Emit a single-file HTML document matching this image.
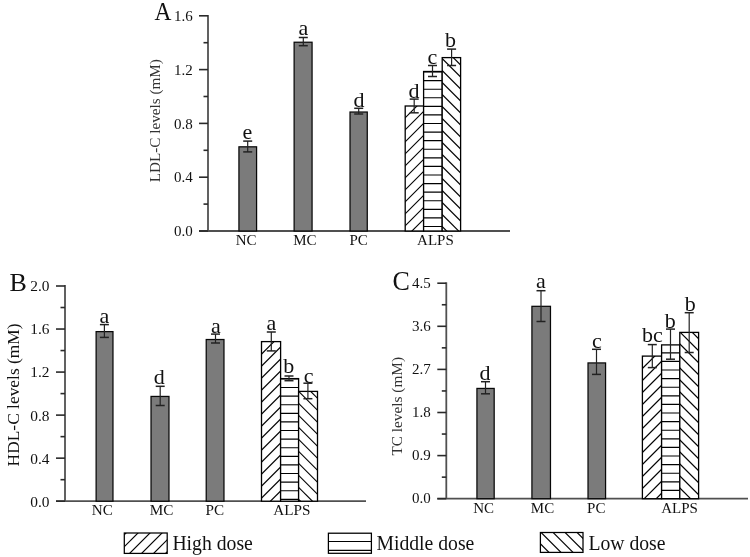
<!DOCTYPE html>
<html><head><meta charset="utf-8"><style>
html,body{margin:0;padding:0;background:#fff;}
svg{display:block;filter:grayscale(1) blur(0.35px);}
text{font-family:"Liberation Serif", serif;fill:#111;}
</style></head><body>
<svg width="750" height="557" viewBox="0 0 750 557">
<rect width="750" height="557" fill="#fff"/>
<line x1="208.00" y1="14.90" x2="208.00" y2="231.00" stroke="#505050" stroke-width="1.8"/>
<line x1="199.00" y1="231.00" x2="510.00" y2="231.00" stroke="#505050" stroke-width="1.8"/>
<line x1="199.00" y1="231.00" x2="208.00" y2="231.00" stroke="#2a2a2a" stroke-width="1.6"/>
<line x1="199.00" y1="177.20" x2="208.00" y2="177.20" stroke="#2a2a2a" stroke-width="1.6"/>
<line x1="199.00" y1="123.40" x2="208.00" y2="123.40" stroke="#2a2a2a" stroke-width="1.6"/>
<line x1="199.00" y1="69.60" x2="208.00" y2="69.60" stroke="#2a2a2a" stroke-width="1.6"/>
<line x1="199.00" y1="15.80" x2="208.00" y2="15.80" stroke="#2a2a2a" stroke-width="1.6"/>
<line x1="203.50" y1="204.10" x2="208.00" y2="204.10" stroke="#2a2a2a" stroke-width="1.6"/>
<line x1="203.50" y1="150.30" x2="208.00" y2="150.30" stroke="#2a2a2a" stroke-width="1.6"/>
<line x1="203.50" y1="96.50" x2="208.00" y2="96.50" stroke="#2a2a2a" stroke-width="1.6"/>
<line x1="203.50" y1="42.70" x2="208.00" y2="42.70" stroke="#2a2a2a" stroke-width="1.6"/>
<text x="192.80" y="236.20" font-size="15" text-anchor="end">0.0</text>
<text x="192.80" y="182.40" font-size="15" text-anchor="end">0.4</text>
<text x="192.80" y="128.60" font-size="15" text-anchor="end">0.8</text>
<text x="192.80" y="74.80" font-size="15" text-anchor="end">1.2</text>
<text x="192.80" y="21.00" font-size="15" text-anchor="end">1.6</text>
<text transform="translate(163,20.4) scale(0.9,1)" font-size="26" text-anchor="middle">A</text>
<text transform="translate(160.3,120.7) rotate(-90) scale(1,0.95)" font-size="15.2" style="fill:#333" text-anchor="middle">LDL-C levels (mM)</text>
<rect x="238.93" y="146.82" width="17.65" height="84.18" fill="#7b7b7b" stroke="#080808" stroke-width="1.25"/>
<rect x="294.12" y="42.23" width="17.95" height="188.78" fill="#7b7b7b" stroke="#080808" stroke-width="1.25"/>
<rect x="350.02" y="112.03" width="17.25" height="118.97" fill="#7b7b7b" stroke="#080808" stroke-width="1.25"/>
<rect x="405.2" y="106" width="18.400000000000034" height="125" fill="#fff"/>
<clipPath id="c1"><rect x="405.2" y="106" width="18.400000000000034" height="125"/></clipPath>
<g clip-path="url(#c1)" stroke="#000" stroke-width="1.15">
<line x1="277.95" y1="233.00" x2="406.95" y2="104.00"/>
<line x1="289.95" y1="233.00" x2="418.95" y2="104.00"/>
<line x1="301.95" y1="233.00" x2="430.95" y2="104.00"/>
<line x1="313.95" y1="233.00" x2="442.95" y2="104.00"/>
<line x1="325.95" y1="233.00" x2="454.95" y2="104.00"/>
<line x1="337.95" y1="233.00" x2="466.95" y2="104.00"/>
<line x1="349.95" y1="233.00" x2="478.95" y2="104.00"/>
<line x1="361.95" y1="233.00" x2="490.95" y2="104.00"/>
<line x1="373.95" y1="233.00" x2="502.95" y2="104.00"/>
<line x1="385.95" y1="233.00" x2="514.95" y2="104.00"/>
<line x1="397.95" y1="233.00" x2="526.95" y2="104.00"/>
<line x1="409.95" y1="233.00" x2="538.95" y2="104.00"/>
<line x1="421.95" y1="233.00" x2="550.95" y2="104.00"/>
</g>
<rect x="405.2" y="106" width="18.400000000000034" height="125" fill="none" stroke="#000" stroke-width="1.3"/>
<rect x="423.6" y="71.5" width="18.599999999999966" height="159.5" fill="#fff"/>
<clipPath id="c2"><rect x="423.6" y="71.5" width="18.599999999999966" height="159.5"/></clipPath>
<g clip-path="url(#c2)" stroke="#000" stroke-width="1.15">
<line x1="423.6" y1="63.46" x2="442.2" y2="63.46"/>
<line x1="423.6" y1="72.04" x2="442.2" y2="72.04"/>
<line x1="423.6" y1="80.62" x2="442.2" y2="80.62"/>
<line x1="423.6" y1="89.20" x2="442.2" y2="89.20"/>
<line x1="423.6" y1="97.78" x2="442.2" y2="97.78"/>
<line x1="423.6" y1="106.36" x2="442.2" y2="106.36"/>
<line x1="423.6" y1="114.94" x2="442.2" y2="114.94"/>
<line x1="423.6" y1="123.52" x2="442.2" y2="123.52"/>
<line x1="423.6" y1="132.10" x2="442.2" y2="132.10"/>
<line x1="423.6" y1="140.68" x2="442.2" y2="140.68"/>
<line x1="423.6" y1="149.26" x2="442.2" y2="149.26"/>
<line x1="423.6" y1="157.84" x2="442.2" y2="157.84"/>
<line x1="423.6" y1="166.42" x2="442.2" y2="166.42"/>
<line x1="423.6" y1="175.00" x2="442.2" y2="175.00"/>
<line x1="423.6" y1="183.58" x2="442.2" y2="183.58"/>
<line x1="423.6" y1="192.16" x2="442.2" y2="192.16"/>
<line x1="423.6" y1="200.74" x2="442.2" y2="200.74"/>
<line x1="423.6" y1="209.32" x2="442.2" y2="209.32"/>
<line x1="423.6" y1="217.90" x2="442.2" y2="217.90"/>
<line x1="423.6" y1="226.48" x2="442.2" y2="226.48"/>
<line x1="423.6" y1="235.06" x2="442.2" y2="235.06"/>
</g>
<rect x="423.6" y="71.5" width="18.599999999999966" height="159.5" fill="none" stroke="#000" stroke-width="1.3"/>
<rect x="442.2" y="57.6" width="18.400000000000034" height="173.4" fill="#fff"/>
<clipPath id="c3"><rect x="442.2" y="57.6" width="18.400000000000034" height="173.4"/></clipPath>
<g clip-path="url(#c3)" stroke="#000" stroke-width="1.15">
<line x1="259.25" y1="55.60" x2="436.65" y2="233.00"/>
<line x1="271.25" y1="55.60" x2="448.65" y2="233.00"/>
<line x1="283.25" y1="55.60" x2="460.65" y2="233.00"/>
<line x1="295.25" y1="55.60" x2="472.65" y2="233.00"/>
<line x1="307.25" y1="55.60" x2="484.65" y2="233.00"/>
<line x1="319.25" y1="55.60" x2="496.65" y2="233.00"/>
<line x1="331.25" y1="55.60" x2="508.65" y2="233.00"/>
<line x1="343.25" y1="55.60" x2="520.65" y2="233.00"/>
<line x1="355.25" y1="55.60" x2="532.65" y2="233.00"/>
<line x1="367.25" y1="55.60" x2="544.65" y2="233.00"/>
<line x1="379.25" y1="55.60" x2="556.65" y2="233.00"/>
<line x1="391.25" y1="55.60" x2="568.65" y2="233.00"/>
<line x1="403.25" y1="55.60" x2="580.65" y2="233.00"/>
<line x1="415.25" y1="55.60" x2="592.65" y2="233.00"/>
<line x1="427.25" y1="55.60" x2="604.65" y2="233.00"/>
<line x1="439.25" y1="55.60" x2="616.65" y2="233.00"/>
<line x1="451.25" y1="55.60" x2="628.65" y2="233.00"/>
<line x1="463.25" y1="55.60" x2="640.65" y2="233.00"/>
</g>
<rect x="442.2" y="57.6" width="18.400000000000034" height="173.4" fill="none" stroke="#000" stroke-width="1.3"/>
<line x1="247.70" y1="141.10" x2="247.70" y2="151.90" stroke="#222" stroke-width="1.2"/>
<line x1="243.20" y1="141.10" x2="252.20" y2="141.10" stroke="#222" stroke-width="1.5"/>
<line x1="243.20" y1="151.90" x2="252.20" y2="151.90" stroke="#222" stroke-width="1.5"/>
<line x1="303.30" y1="37.50" x2="303.30" y2="45.70" stroke="#222" stroke-width="1.2"/>
<line x1="298.80" y1="37.50" x2="307.80" y2="37.50" stroke="#222" stroke-width="1.5"/>
<line x1="298.80" y1="45.70" x2="307.80" y2="45.70" stroke="#222" stroke-width="1.5"/>
<line x1="358.70" y1="108.30" x2="358.70" y2="114.00" stroke="#222" stroke-width="1.2"/>
<line x1="354.20" y1="108.30" x2="363.20" y2="108.30" stroke="#222" stroke-width="1.5"/>
<line x1="354.20" y1="114.00" x2="363.20" y2="114.00" stroke="#222" stroke-width="1.5"/>
<line x1="414.20" y1="99.10" x2="414.20" y2="112.80" stroke="#222" stroke-width="1.2"/>
<line x1="409.70" y1="99.10" x2="418.70" y2="99.10" stroke="#222" stroke-width="1.5"/>
<line x1="409.70" y1="112.80" x2="418.70" y2="112.80" stroke="#222" stroke-width="1.5"/>
<line x1="432.50" y1="65.50" x2="432.50" y2="76.50" stroke="#222" stroke-width="1.2"/>
<line x1="428.00" y1="65.50" x2="437.00" y2="65.50" stroke="#222" stroke-width="1.5"/>
<line x1="428.00" y1="76.50" x2="437.00" y2="76.50" stroke="#222" stroke-width="1.5"/>
<line x1="451.60" y1="49.10" x2="451.60" y2="65.50" stroke="#222" stroke-width="1.2"/>
<line x1="447.10" y1="49.10" x2="456.10" y2="49.10" stroke="#222" stroke-width="1.5"/>
<line x1="447.10" y1="65.50" x2="456.10" y2="65.50" stroke="#222" stroke-width="1.5"/>
<text x="247.50" y="139.00" font-size="22" text-anchor="middle">e</text>
<text x="303.50" y="35.20" font-size="22" text-anchor="middle">a</text>
<text x="359.00" y="106.90" font-size="22" text-anchor="middle">d</text>
<text x="414.00" y="97.50" font-size="22" text-anchor="middle">d</text>
<text x="432.30" y="63.70" font-size="22" text-anchor="middle">c</text>
<text x="450.50" y="47.10" font-size="22" text-anchor="middle">b</text>
<text x="246.20" y="245.00" font-size="15" text-anchor="middle">NC</text>
<text x="304.80" y="245.00" font-size="15" text-anchor="middle">MC</text>
<text x="358.60" y="245.00" font-size="15" text-anchor="middle">PC</text>
<text x="435.40" y="245.00" font-size="15" text-anchor="middle">ALPS</text>
<line x1="65.00" y1="285.10" x2="65.00" y2="501.20" stroke="#505050" stroke-width="1.8"/>
<line x1="56.00" y1="501.20" x2="366.00" y2="501.20" stroke="#505050" stroke-width="1.8"/>
<line x1="56.00" y1="501.20" x2="65.00" y2="501.20" stroke="#2a2a2a" stroke-width="1.6"/>
<line x1="56.00" y1="458.16" x2="65.00" y2="458.16" stroke="#2a2a2a" stroke-width="1.6"/>
<line x1="56.00" y1="415.12" x2="65.00" y2="415.12" stroke="#2a2a2a" stroke-width="1.6"/>
<line x1="56.00" y1="372.08" x2="65.00" y2="372.08" stroke="#2a2a2a" stroke-width="1.6"/>
<line x1="56.00" y1="329.04" x2="65.00" y2="329.04" stroke="#2a2a2a" stroke-width="1.6"/>
<line x1="56.00" y1="286.00" x2="65.00" y2="286.00" stroke="#2a2a2a" stroke-width="1.6"/>
<line x1="60.50" y1="479.68" x2="65.00" y2="479.68" stroke="#2a2a2a" stroke-width="1.6"/>
<line x1="60.50" y1="436.64" x2="65.00" y2="436.64" stroke="#2a2a2a" stroke-width="1.6"/>
<line x1="60.50" y1="393.60" x2="65.00" y2="393.60" stroke="#2a2a2a" stroke-width="1.6"/>
<line x1="60.50" y1="350.56" x2="65.00" y2="350.56" stroke="#2a2a2a" stroke-width="1.6"/>
<line x1="60.50" y1="307.52" x2="65.00" y2="307.52" stroke="#2a2a2a" stroke-width="1.6"/>
<text x="49.50" y="506.60" font-size="15.4" text-anchor="end">0.0</text>
<text x="49.50" y="463.56" font-size="15.4" text-anchor="end">0.4</text>
<text x="49.50" y="420.52" font-size="15.4" text-anchor="end">0.8</text>
<text x="49.50" y="377.48" font-size="15.4" text-anchor="end">1.2</text>
<text x="49.50" y="334.44" font-size="15.4" text-anchor="end">1.6</text>
<text x="49.50" y="291.40" font-size="15.4" text-anchor="end">2.0</text>
<text x="9.50" y="291.00" font-size="26" text-anchor="start">B</text>
<text transform="translate(18.7,394.9) rotate(-90)" font-size="17.4" text-anchor="middle">HDL-C levels (mM)</text>
<rect x="96.12" y="331.62" width="16.85" height="169.57" fill="#7b7b7b" stroke="#080808" stroke-width="1.25"/>
<rect x="151.03" y="396.43" width="17.95" height="104.77" fill="#7b7b7b" stroke="#080808" stroke-width="1.25"/>
<rect x="206.22" y="339.52" width="17.75" height="161.68" fill="#7b7b7b" stroke="#080808" stroke-width="1.25"/>
<rect x="261.5" y="341.6" width="19.100000000000023" height="159.59999999999997" fill="#fff"/>
<clipPath id="c4"><rect x="261.5" y="341.6" width="19.100000000000023" height="159.59999999999997"/></clipPath>
<g clip-path="url(#c4)" stroke="#000" stroke-width="1.15">
<line x1="88.40" y1="503.20" x2="252.00" y2="339.60"/>
<line x1="100.40" y1="503.20" x2="264.00" y2="339.60"/>
<line x1="112.40" y1="503.20" x2="276.00" y2="339.60"/>
<line x1="124.40" y1="503.20" x2="288.00" y2="339.60"/>
<line x1="136.40" y1="503.20" x2="300.00" y2="339.60"/>
<line x1="148.40" y1="503.20" x2="312.00" y2="339.60"/>
<line x1="160.40" y1="503.20" x2="324.00" y2="339.60"/>
<line x1="172.40" y1="503.20" x2="336.00" y2="339.60"/>
<line x1="184.40" y1="503.20" x2="348.00" y2="339.60"/>
<line x1="196.40" y1="503.20" x2="360.00" y2="339.60"/>
<line x1="208.40" y1="503.20" x2="372.00" y2="339.60"/>
<line x1="220.40" y1="503.20" x2="384.00" y2="339.60"/>
<line x1="232.40" y1="503.20" x2="396.00" y2="339.60"/>
<line x1="244.40" y1="503.20" x2="408.00" y2="339.60"/>
<line x1="256.40" y1="503.20" x2="420.00" y2="339.60"/>
<line x1="268.40" y1="503.20" x2="432.00" y2="339.60"/>
<line x1="280.40" y1="503.20" x2="444.00" y2="339.60"/>
</g>
<rect x="261.5" y="341.6" width="19.100000000000023" height="159.59999999999997" fill="none" stroke="#000" stroke-width="1.3"/>
<rect x="280.6" y="378.6" width="18.0" height="122.59999999999997" fill="#fff"/>
<clipPath id="c5"><rect x="280.6" y="378.6" width="18.0" height="122.59999999999997"/></clipPath>
<g clip-path="url(#c5)" stroke="#000" stroke-width="1.15">
<line x1="280.6" y1="370.30" x2="298.6" y2="370.30"/>
<line x1="280.6" y1="378.90" x2="298.6" y2="378.90"/>
<line x1="280.6" y1="387.50" x2="298.6" y2="387.50"/>
<line x1="280.6" y1="396.10" x2="298.6" y2="396.10"/>
<line x1="280.6" y1="404.70" x2="298.6" y2="404.70"/>
<line x1="280.6" y1="413.30" x2="298.6" y2="413.30"/>
<line x1="280.6" y1="421.90" x2="298.6" y2="421.90"/>
<line x1="280.6" y1="430.50" x2="298.6" y2="430.50"/>
<line x1="280.6" y1="439.10" x2="298.6" y2="439.10"/>
<line x1="280.6" y1="447.70" x2="298.6" y2="447.70"/>
<line x1="280.6" y1="456.30" x2="298.6" y2="456.30"/>
<line x1="280.6" y1="464.90" x2="298.6" y2="464.90"/>
<line x1="280.6" y1="473.50" x2="298.6" y2="473.50"/>
<line x1="280.6" y1="482.10" x2="298.6" y2="482.10"/>
<line x1="280.6" y1="490.70" x2="298.6" y2="490.70"/>
<line x1="280.6" y1="499.30" x2="298.6" y2="499.30"/>
<line x1="280.6" y1="507.90" x2="298.6" y2="507.90"/>
</g>
<rect x="280.6" y="378.6" width="18.0" height="122.59999999999997" fill="none" stroke="#000" stroke-width="1.3"/>
<rect x="298.6" y="391.4" width="18.899999999999977" height="109.80000000000001" fill="#fff"/>
<clipPath id="c6"><rect x="298.6" y="391.4" width="18.899999999999977" height="109.80000000000001"/></clipPath>
<g clip-path="url(#c6)" stroke="#000" stroke-width="1.15">
<line x1="176.65" y1="389.40" x2="290.45" y2="503.20"/>
<line x1="188.65" y1="389.40" x2="302.45" y2="503.20"/>
<line x1="200.65" y1="389.40" x2="314.45" y2="503.20"/>
<line x1="212.65" y1="389.40" x2="326.45" y2="503.20"/>
<line x1="224.65" y1="389.40" x2="338.45" y2="503.20"/>
<line x1="236.65" y1="389.40" x2="350.45" y2="503.20"/>
<line x1="248.65" y1="389.40" x2="362.45" y2="503.20"/>
<line x1="260.65" y1="389.40" x2="374.45" y2="503.20"/>
<line x1="272.65" y1="389.40" x2="386.45" y2="503.20"/>
<line x1="284.65" y1="389.40" x2="398.45" y2="503.20"/>
<line x1="296.65" y1="389.40" x2="410.45" y2="503.20"/>
<line x1="308.65" y1="389.40" x2="422.45" y2="503.20"/>
<line x1="320.65" y1="389.40" x2="434.45" y2="503.20"/>
</g>
<rect x="298.6" y="391.4" width="18.899999999999977" height="109.80000000000001" fill="none" stroke="#000" stroke-width="1.3"/>
<line x1="104.40" y1="324.60" x2="104.40" y2="337.40" stroke="#222" stroke-width="1.2"/>
<line x1="99.90" y1="324.60" x2="108.90" y2="324.60" stroke="#222" stroke-width="1.5"/>
<line x1="99.90" y1="337.40" x2="108.90" y2="337.40" stroke="#222" stroke-width="1.5"/>
<line x1="160.20" y1="386.30" x2="160.20" y2="405.50" stroke="#222" stroke-width="1.2"/>
<line x1="155.70" y1="386.30" x2="164.70" y2="386.30" stroke="#222" stroke-width="1.5"/>
<line x1="155.70" y1="405.50" x2="164.70" y2="405.50" stroke="#222" stroke-width="1.5"/>
<line x1="215.50" y1="334.10" x2="215.50" y2="343.00" stroke="#222" stroke-width="1.2"/>
<line x1="211.00" y1="334.10" x2="220.00" y2="334.10" stroke="#222" stroke-width="1.5"/>
<line x1="211.00" y1="343.00" x2="220.00" y2="343.00" stroke="#222" stroke-width="1.5"/>
<line x1="271.30" y1="332.00" x2="271.30" y2="350.90" stroke="#222" stroke-width="1.2"/>
<line x1="266.80" y1="332.00" x2="275.80" y2="332.00" stroke="#222" stroke-width="1.5"/>
<line x1="266.80" y1="350.90" x2="275.80" y2="350.90" stroke="#222" stroke-width="1.5"/>
<line x1="289.00" y1="376.00" x2="289.00" y2="380.70" stroke="#222" stroke-width="1.2"/>
<line x1="284.50" y1="376.00" x2="293.50" y2="376.00" stroke="#222" stroke-width="1.5"/>
<line x1="284.50" y1="380.70" x2="293.50" y2="380.70" stroke="#222" stroke-width="1.5"/>
<line x1="307.90" y1="383.20" x2="307.90" y2="398.70" stroke="#222" stroke-width="1.2"/>
<line x1="303.40" y1="383.20" x2="312.40" y2="383.20" stroke="#222" stroke-width="1.5"/>
<line x1="303.40" y1="398.70" x2="312.40" y2="398.70" stroke="#222" stroke-width="1.5"/>
<text x="104.50" y="323.00" font-size="22" text-anchor="middle">a</text>
<text x="159.30" y="383.50" font-size="22" text-anchor="middle">d</text>
<text x="216.00" y="332.90" font-size="22" text-anchor="middle">a</text>
<text x="271.40" y="330.10" font-size="22" text-anchor="middle">a</text>
<text x="288.80" y="372.50" font-size="22" text-anchor="middle">b</text>
<text x="308.70" y="382.50" font-size="22" text-anchor="middle">c</text>
<text x="102.30" y="515.00" font-size="15.2" text-anchor="middle">NC</text>
<text x="161.50" y="515.00" font-size="15.2" text-anchor="middle">MC</text>
<text x="214.80" y="515.00" font-size="15.2" text-anchor="middle">PC</text>
<text x="291.80" y="515.00" font-size="15.2" text-anchor="middle">ALPS</text>
<line x1="446.30" y1="282.30" x2="446.30" y2="498.70" stroke="#505050" stroke-width="1.8"/>
<line x1="437.30" y1="498.70" x2="748.00" y2="498.70" stroke="#505050" stroke-width="1.8"/>
<line x1="437.30" y1="498.70" x2="446.30" y2="498.70" stroke="#2a2a2a" stroke-width="1.6"/>
<line x1="437.30" y1="455.60" x2="446.30" y2="455.60" stroke="#2a2a2a" stroke-width="1.6"/>
<line x1="437.30" y1="412.50" x2="446.30" y2="412.50" stroke="#2a2a2a" stroke-width="1.6"/>
<line x1="437.30" y1="369.40" x2="446.30" y2="369.40" stroke="#2a2a2a" stroke-width="1.6"/>
<line x1="437.30" y1="326.30" x2="446.30" y2="326.30" stroke="#2a2a2a" stroke-width="1.6"/>
<line x1="437.30" y1="283.20" x2="446.30" y2="283.20" stroke="#2a2a2a" stroke-width="1.6"/>
<line x1="441.80" y1="477.15" x2="446.30" y2="477.15" stroke="#2a2a2a" stroke-width="1.6"/>
<line x1="441.80" y1="434.05" x2="446.30" y2="434.05" stroke="#2a2a2a" stroke-width="1.6"/>
<line x1="441.80" y1="390.95" x2="446.30" y2="390.95" stroke="#2a2a2a" stroke-width="1.6"/>
<line x1="441.80" y1="347.85" x2="446.30" y2="347.85" stroke="#2a2a2a" stroke-width="1.6"/>
<line x1="441.80" y1="304.75" x2="446.30" y2="304.75" stroke="#2a2a2a" stroke-width="1.6"/>
<text x="430.80" y="503.20" font-size="15" text-anchor="end">0.0</text>
<text x="430.80" y="460.10" font-size="15" text-anchor="end">0.9</text>
<text x="430.80" y="417.00" font-size="15" text-anchor="end">1.8</text>
<text x="430.80" y="373.90" font-size="15" text-anchor="end">2.7</text>
<text x="430.80" y="330.80" font-size="15" text-anchor="end">3.6</text>
<text x="430.80" y="287.70" font-size="15" text-anchor="end">4.5</text>
<text transform="translate(392.5,290.2) scale(1,1.065)" font-size="26">C</text>
<text transform="translate(402,406.3) rotate(-90)" font-size="15.3" style="fill:#333" text-anchor="middle">TC levels (mM)</text>
<rect x="476.93" y="388.43" width="17.25" height="110.27" fill="#7b7b7b" stroke="#080808" stroke-width="1.25"/>
<rect x="531.92" y="306.32" width="18.55" height="192.38" fill="#7b7b7b" stroke="#080808" stroke-width="1.25"/>
<rect x="588.02" y="362.93" width="17.55" height="135.77" fill="#7b7b7b" stroke="#080808" stroke-width="1.25"/>
<rect x="642.4" y="356.1" width="19.200000000000045" height="142.59999999999997" fill="#fff"/>
<clipPath id="c7"><rect x="642.4" y="356.1" width="19.200000000000045" height="142.59999999999997"/></clipPath>
<g clip-path="url(#c7)" stroke="#000" stroke-width="1.15">
<line x1="486.20" y1="500.70" x2="632.80" y2="354.10"/>
<line x1="498.20" y1="500.70" x2="644.80" y2="354.10"/>
<line x1="510.20" y1="500.70" x2="656.80" y2="354.10"/>
<line x1="522.20" y1="500.70" x2="668.80" y2="354.10"/>
<line x1="534.20" y1="500.70" x2="680.80" y2="354.10"/>
<line x1="546.20" y1="500.70" x2="692.80" y2="354.10"/>
<line x1="558.20" y1="500.70" x2="704.80" y2="354.10"/>
<line x1="570.20" y1="500.70" x2="716.80" y2="354.10"/>
<line x1="582.20" y1="500.70" x2="728.80" y2="354.10"/>
<line x1="594.20" y1="500.70" x2="740.80" y2="354.10"/>
<line x1="606.20" y1="500.70" x2="752.80" y2="354.10"/>
<line x1="618.20" y1="500.70" x2="764.80" y2="354.10"/>
<line x1="630.20" y1="500.70" x2="776.80" y2="354.10"/>
<line x1="642.20" y1="500.70" x2="788.80" y2="354.10"/>
<line x1="654.20" y1="500.70" x2="800.80" y2="354.10"/>
<line x1="666.20" y1="500.70" x2="812.80" y2="354.10"/>
</g>
<rect x="642.4" y="356.1" width="19.200000000000045" height="142.59999999999997" fill="none" stroke="#000" stroke-width="1.3"/>
<rect x="661.6" y="344.9" width="18.199999999999932" height="153.8" fill="#fff"/>
<clipPath id="c8"><rect x="661.6" y="344.9" width="18.199999999999932" height="153.8"/></clipPath>
<g clip-path="url(#c8)" stroke="#000" stroke-width="1.15">
<line x1="661.6" y1="344.20" x2="679.8" y2="344.20"/>
<line x1="661.6" y1="352.80" x2="679.8" y2="352.80"/>
<line x1="661.6" y1="361.40" x2="679.8" y2="361.40"/>
<line x1="661.6" y1="370.00" x2="679.8" y2="370.00"/>
<line x1="661.6" y1="378.60" x2="679.8" y2="378.60"/>
<line x1="661.6" y1="387.20" x2="679.8" y2="387.20"/>
<line x1="661.6" y1="395.80" x2="679.8" y2="395.80"/>
<line x1="661.6" y1="404.40" x2="679.8" y2="404.40"/>
<line x1="661.6" y1="413.00" x2="679.8" y2="413.00"/>
<line x1="661.6" y1="421.60" x2="679.8" y2="421.60"/>
<line x1="661.6" y1="430.20" x2="679.8" y2="430.20"/>
<line x1="661.6" y1="438.80" x2="679.8" y2="438.80"/>
<line x1="661.6" y1="447.40" x2="679.8" y2="447.40"/>
<line x1="661.6" y1="456.00" x2="679.8" y2="456.00"/>
<line x1="661.6" y1="464.60" x2="679.8" y2="464.60"/>
<line x1="661.6" y1="473.20" x2="679.8" y2="473.20"/>
<line x1="661.6" y1="481.80" x2="679.8" y2="481.80"/>
<line x1="661.6" y1="490.40" x2="679.8" y2="490.40"/>
<line x1="661.6" y1="499.00" x2="679.8" y2="499.00"/>
</g>
<rect x="661.6" y="344.9" width="18.199999999999932" height="153.8" fill="none" stroke="#000" stroke-width="1.3"/>
<rect x="679.8" y="332.4" width="18.800000000000068" height="166.3" fill="#fff"/>
<clipPath id="c9"><rect x="679.8" y="332.4" width="18.800000000000068" height="166.3"/></clipPath>
<g clip-path="url(#c9)" stroke="#000" stroke-width="1.15">
<line x1="510.30" y1="330.40" x2="680.60" y2="500.70"/>
<line x1="522.30" y1="330.40" x2="692.60" y2="500.70"/>
<line x1="534.30" y1="330.40" x2="704.60" y2="500.70"/>
<line x1="546.30" y1="330.40" x2="716.60" y2="500.70"/>
<line x1="558.30" y1="330.40" x2="728.60" y2="500.70"/>
<line x1="570.30" y1="330.40" x2="740.60" y2="500.70"/>
<line x1="582.30" y1="330.40" x2="752.60" y2="500.70"/>
<line x1="594.30" y1="330.40" x2="764.60" y2="500.70"/>
<line x1="606.30" y1="330.40" x2="776.60" y2="500.70"/>
<line x1="618.30" y1="330.40" x2="788.60" y2="500.70"/>
<line x1="630.30" y1="330.40" x2="800.60" y2="500.70"/>
<line x1="642.30" y1="330.40" x2="812.60" y2="500.70"/>
<line x1="654.30" y1="330.40" x2="824.60" y2="500.70"/>
<line x1="666.30" y1="330.40" x2="836.60" y2="500.70"/>
<line x1="678.30" y1="330.40" x2="848.60" y2="500.70"/>
<line x1="690.30" y1="330.40" x2="860.60" y2="500.70"/>
<line x1="702.30" y1="330.40" x2="872.60" y2="500.70"/>
</g>
<rect x="679.8" y="332.4" width="18.800000000000068" height="166.3" fill="none" stroke="#000" stroke-width="1.3"/>
<line x1="485.50" y1="381.70" x2="485.50" y2="393.80" stroke="#222" stroke-width="1.2"/>
<line x1="481.00" y1="381.70" x2="490.00" y2="381.70" stroke="#222" stroke-width="1.5"/>
<line x1="481.00" y1="393.80" x2="490.00" y2="393.80" stroke="#222" stroke-width="1.5"/>
<line x1="541.00" y1="290.70" x2="541.00" y2="321.50" stroke="#222" stroke-width="1.2"/>
<line x1="536.50" y1="290.70" x2="545.50" y2="290.70" stroke="#222" stroke-width="1.5"/>
<line x1="536.50" y1="321.50" x2="545.50" y2="321.50" stroke="#222" stroke-width="1.5"/>
<line x1="596.50" y1="349.30" x2="596.50" y2="374.40" stroke="#222" stroke-width="1.2"/>
<line x1="592.00" y1="349.30" x2="601.00" y2="349.30" stroke="#222" stroke-width="1.5"/>
<line x1="592.00" y1="374.40" x2="601.00" y2="374.40" stroke="#222" stroke-width="1.5"/>
<line x1="652.30" y1="344.60" x2="652.30" y2="367.60" stroke="#222" stroke-width="1.2"/>
<line x1="647.80" y1="344.60" x2="656.80" y2="344.60" stroke="#222" stroke-width="1.5"/>
<line x1="647.80" y1="367.60" x2="656.80" y2="367.60" stroke="#222" stroke-width="1.5"/>
<line x1="670.50" y1="329.10" x2="670.50" y2="359.20" stroke="#222" stroke-width="1.2"/>
<line x1="666.00" y1="329.10" x2="675.00" y2="329.10" stroke="#222" stroke-width="1.5"/>
<line x1="666.00" y1="359.20" x2="675.00" y2="359.20" stroke="#222" stroke-width="1.5"/>
<line x1="689.20" y1="312.70" x2="689.20" y2="352.50" stroke="#222" stroke-width="1.2"/>
<line x1="684.70" y1="312.70" x2="693.70" y2="312.70" stroke="#222" stroke-width="1.5"/>
<line x1="684.70" y1="352.50" x2="693.70" y2="352.50" stroke="#222" stroke-width="1.5"/>
<text x="485.00" y="379.70" font-size="22" text-anchor="middle">d</text>
<text x="541.00" y="288.30" font-size="22" text-anchor="middle">a</text>
<text x="596.80" y="348.00" font-size="22" text-anchor="middle">c</text>
<text x="652.40" y="342.40" font-size="22" text-anchor="middle">bc</text>
<text x="670.20" y="327.80" font-size="22" text-anchor="middle">b</text>
<text x="690.30" y="310.50" font-size="22" text-anchor="middle">b</text>
<text x="483.70" y="512.50" font-size="15" text-anchor="middle">NC</text>
<text x="542.50" y="512.50" font-size="15" text-anchor="middle">MC</text>
<text x="596.30" y="512.50" font-size="15" text-anchor="middle">PC</text>
<text x="679.60" y="512.50" font-size="15" text-anchor="middle">ALPS</text>
<rect x="124.3" y="533" width="42.9" height="20.4" fill="#fff"/>
<clipPath id="c10"><rect x="124.3" y="533" width="42.89999999999999" height="20.399999999999977"/></clipPath>
<g clip-path="url(#c10)" stroke="#000" stroke-width="1.15">
<line x1="91.60" y1="555.40" x2="116.00" y2="531.00"/>
<line x1="103.60" y1="555.40" x2="128.00" y2="531.00"/>
<line x1="115.60" y1="555.40" x2="140.00" y2="531.00"/>
<line x1="127.60" y1="555.40" x2="152.00" y2="531.00"/>
<line x1="139.60" y1="555.40" x2="164.00" y2="531.00"/>
<line x1="151.60" y1="555.40" x2="176.00" y2="531.00"/>
<line x1="163.60" y1="555.40" x2="188.00" y2="531.00"/>
<line x1="175.60" y1="555.40" x2="200.00" y2="531.00"/>
</g>
<rect x="124.3" y="533" width="42.9" height="20.4" fill="none" stroke="#000" stroke-width="1.25"/>
<text transform="translate(172.4,549.8) scale(1,1.065)" font-size="19.7">High dose</text>
<rect x="328.4" y="533.2" width="43" height="20.1" fill="#fff"/>
<clipPath id="c11"><rect x="328.4" y="533.2" width="43.0" height="20.09999999999991"/></clipPath>
<g clip-path="url(#c11)" stroke="#000" stroke-width="1.15">
<line x1="328.4" y1="532.70" x2="371.4" y2="532.70"/>
<line x1="328.4" y1="541.50" x2="371.4" y2="541.50"/>
<line x1="328.4" y1="550.30" x2="371.4" y2="550.30"/>
<line x1="328.4" y1="559.10" x2="371.4" y2="559.10"/>
</g>
<rect x="328.4" y="533.2" width="43" height="20.1" fill="none" stroke="#000" stroke-width="1.25"/>
<text transform="translate(376.4,549.8) scale(1,1.065)" font-size="19.7">Middle dose</text>
<rect x="540.4" y="532.5" width="42.6" height="19.9" fill="#fff"/>
<clipPath id="c12"><rect x="540.4" y="532.5" width="42.60000000000002" height="19.899999999999977"/></clipPath>
<g clip-path="url(#c12)" stroke="#000" stroke-width="1.15">
<line x1="515.10" y1="530.50" x2="539.00" y2="554.40"/>
<line x1="527.10" y1="530.50" x2="551.00" y2="554.40"/>
<line x1="539.10" y1="530.50" x2="563.00" y2="554.40"/>
<line x1="551.10" y1="530.50" x2="575.00" y2="554.40"/>
<line x1="563.10" y1="530.50" x2="587.00" y2="554.40"/>
<line x1="575.10" y1="530.50" x2="599.00" y2="554.40"/>
<line x1="587.10" y1="530.50" x2="611.00" y2="554.40"/>
</g>
<rect x="540.4" y="532.5" width="42.6" height="19.9" fill="none" stroke="#000" stroke-width="1.25"/>
<text transform="translate(588.4,549.8) scale(1,1.065)" font-size="19.7">Low dose</text>
</svg>
</body></html>
